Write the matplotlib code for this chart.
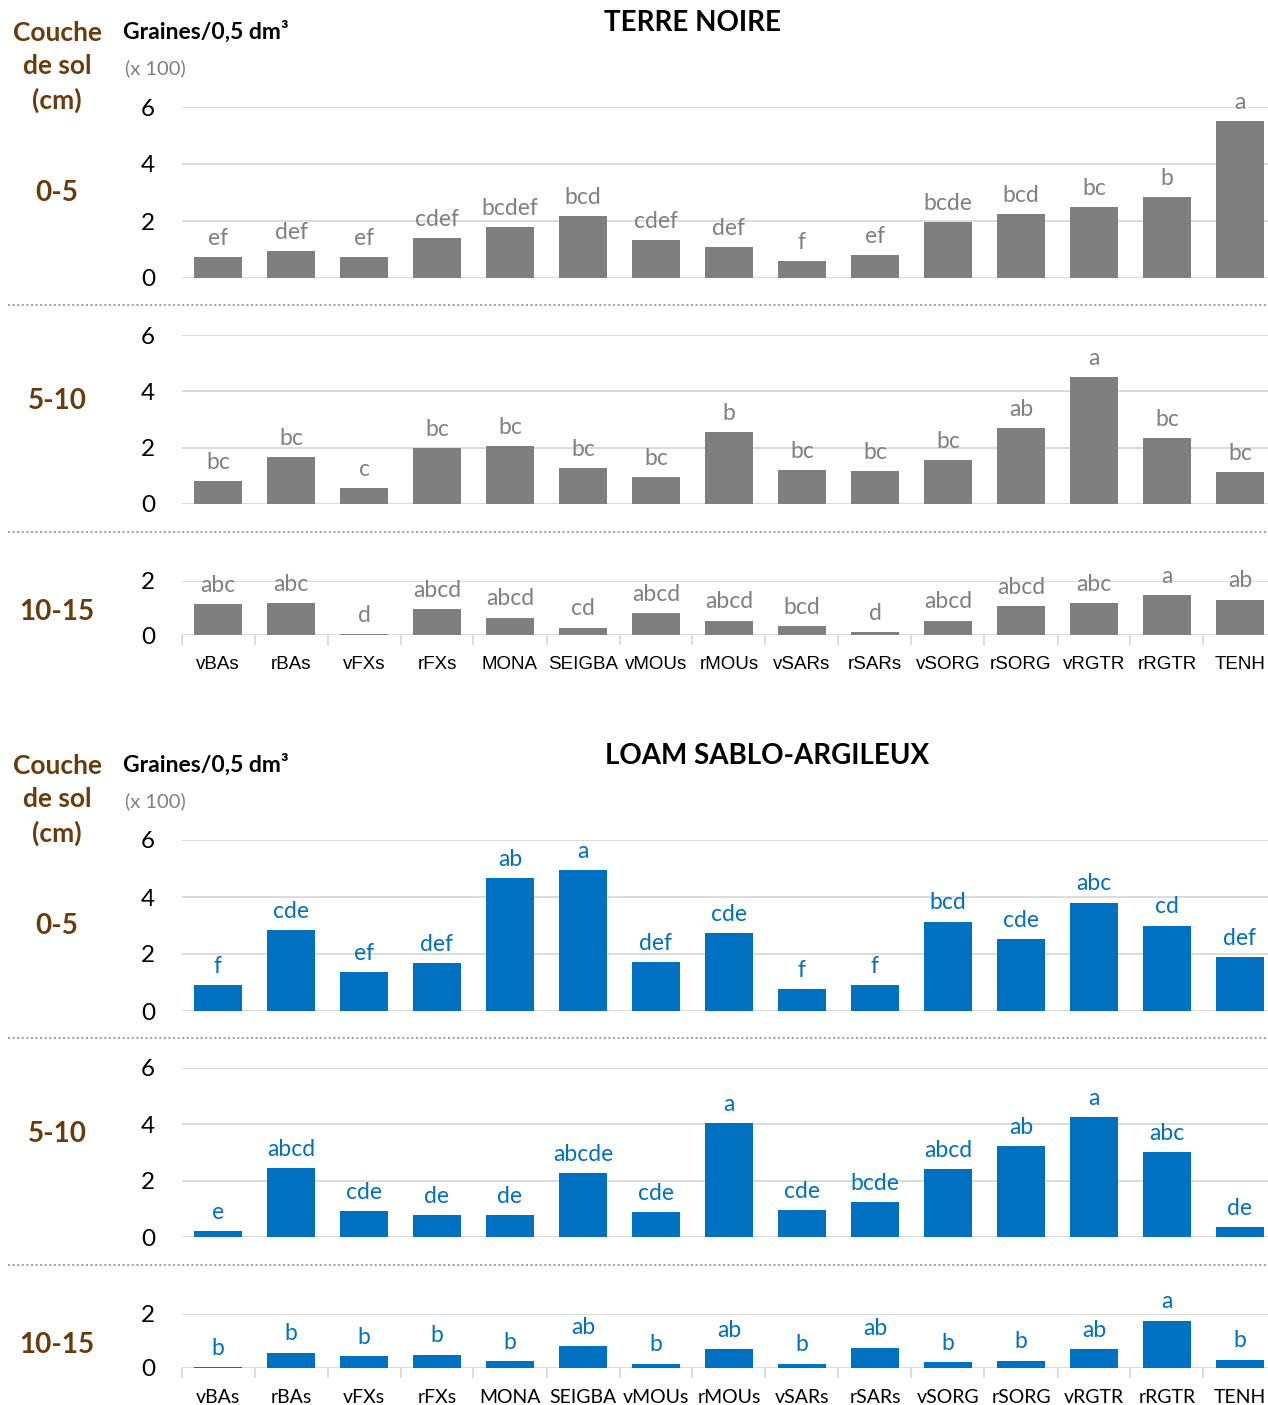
import matplotlib.pyplot as plt
import numpy as np

# sample codes (same order in both soils)
traitements = ['vBAs', 'rBAs', 'vFXs', 'rFXs', 'MONA', 'SEIGBA', 'vMOUs', 'rMOUs',
               'vSARs', 'rSARs', 'vSORG', 'rSORG', 'vRGTR', 'rRGTR', 'TENH']

# seeds per 0.5 dm3 (x 100) - terre noire
tn_0_5 = [0.74, 0.95, 0.74, 1.40, 1.79, 2.18, 1.33, 1.09, 0.60, 0.81, 1.96, 2.25, 2.49, 2.84, 5.51]
tn_5_10 = [0.82, 1.67, 0.57, 1.99, 2.06, 1.28, 0.96, 2.56, 1.21, 1.17, 1.56, 2.70, 4.51, 2.34, 1.14]
tn_10_15 = [1.15, 1.18, 0.04, 0.95, 0.64, 0.27, 0.80, 0.53, 0.32, 0.10, 0.53, 1.06, 1.18, 1.48, 1.31]
tn_let_0_5 = ['ef', 'def', 'ef', 'cdef', 'bcdef', 'bcd', 'cdef', 'def', 'f', 'ef',
              'bcde', 'bcd', 'bc', 'b', 'a']
tn_let_5_10 = ['bc', 'bc', 'c', 'bc', 'bc', 'bc', 'bc', 'b', 'bc', 'bc', 'bc', 'ab', 'a', 'bc', 'bc']
tn_let_10_15 = ['abc', 'abc', 'd', 'abcd', 'abcd', 'cd', 'abcd', 'abcd', 'bcd', 'd',
                'abcd', 'abcd', 'abc', 'a', 'ab']

# loam sablo-argileux
la_0_5 = [0.91, 2.83, 1.36, 1.67, 4.67, 4.95, 1.71, 2.72, 0.77, 0.91, 3.14, 2.51, 3.80, 3.00, 1.88]
la_5_10 = [0.21, 2.45, 0.92, 0.78, 0.78, 2.27, 0.89, 4.05, 0.96, 1.24, 2.41, 3.23, 4.26, 3.02, 0.36]
la_10_15 = [0.04, 0.57, 0.44, 0.49, 0.25, 0.81, 0.16, 0.70, 0.16, 0.75, 0.22, 0.27, 0.70, 1.75, 0.31]
la_let_0_5 = ['f', 'cde', 'ef', 'def', 'ab', 'a', 'def', 'cde', 'f', 'f', 'bcd', 'cde', 'abc', 'cd', 'def']
la_let_5_10 = ['e', 'abcd', 'cde', 'de', 'de', 'abcde', 'cde', 'a', 'cde', 'bcde', 'abcd', 'ab', 'a', 'abc', 'de']
la_let_10_15 = ['b', 'b', 'b', 'b', 'b', 'ab', 'b', 'ab', 'b', 'ab', 'b', 'b', 'ab', 'a', 'b']

couches = ['0-5', '5-10', '10-15']

W, H = 1268, 1405
fig = plt.figure(figsize=(W / 100, H / 100), dpi=100)

BROWN = '#6b3b0b'
GRID = '#d9d9d9'
FONT = ['Lato', 'DejaVu Sans']
NARROW = ['Liberation Sans Narrow', 'Liberation Sans', 'DejaVu Sans']


def px_axes(left, right, top, bottom):
    return fig.add_axes([left / W, 1 - bottom / H, (right - left) / W, (bottom - top) / H])


def draw_layer(ax, vals, letters, ymax, color, lab_color, last, xfont, xsize):
    x = np.arange(len(vals))
    ax.bar(x, vals, width=0.67, color=color, zorder=3)
    ax.set_xlim(-0.5, len(vals) - 0.5)
    ax.set_ylim(0, ymax)
    ax.set_yticks(np.arange(0, ymax + 0.1, 2))
    ax.yaxis.grid(True, color=GRID, lw=1.3, zorder=0)
    for s in ax.spines.values():
        s.set_visible(False)
    ax.tick_params(axis='y', length=0, labelsize=17.5, pad=19)
    for t in ax.get_yticklabels():
        t.set_fontfamily(FONT)
    for xi, v, l in zip(x, vals, letters):
        ax.annotate(l, (xi, v), xytext=(0, 6), textcoords='offset points',
                    ha='center', va='bottom', fontsize=16.5, color=lab_color,
                    family=FONT, annotation_clip=False)
    if last:
        ax.set_xticks(np.arange(-0.5, len(vals), 1))
        ax.set_xticklabels([])
        ax.set_xticks(x, minor=True)
        ax.set_xticklabels(traitements, minor=True, fontsize=xsize, family=xfont)
        ax.tick_params(axis='x', which='major', length=7, color=GRID, width=1.3)
        ax.tick_params(axis='x', which='minor', length=0, pad=15)
    else:
        ax.set_xticks([])


def draw_panel(title, title_x, y0, layers, letters, color, lab_color, xfont, xsize):
    # pixel rows for each layer: (top of scale, baseline, ymax, label row)
    rows = [(y0 + 107, y0 + 278, 6, y0 + 193),
            (y0 + 335, y0 + 504, 6, y0 + 401),
            (y0 + 581, y0 + 635, 2, y0 + 612)]
    for i, ((top, bot, ymax, ly), vals, lets) in enumerate(zip(rows, layers, letters)):
        ax = px_axes(181.5, 1276.5, top, bot)
        draw_layer(ax, vals, lets, ymax, color, lab_color, i == 2, xfont, xsize)
        fig.text(57 / W, 1 - ly / H, couches[i],
                 ha='center', va='center', fontsize=20, fontweight='bold',
                 color=BROWN, family=FONT)
    fig.text(title_x / W, 1 - (y0 + 23) / H, title, ha='center', va='center',
             fontsize=20, fontweight='bold', family=FONT)
    fig.text(57 / W, 1 - (y0 + 67) / H, 'Couche\nde sol\n(cm)', ha='center', va='center',
             fontsize=19, fontweight='bold', color=BROWN, family=FONT, linespacing=1.45)
    fig.text(123 / W, 1 - (y0 + 32) / H, 'Graines/0,5 dm³', ha='left', va='center',
             fontsize=16.5, fontweight='bold', family=FONT)
    fig.text(125 / W, 1 - (y0 + 68) / H, '(x 100)', ha='left', va='center',
             fontsize=14.5, color='#808080', family=FONT)
    for yy in (y0 + 305, y0 + 532):
        fig.add_artist(plt.Line2D([8 / W, 1], [1 - yy / H] * 2, color='#a6a6a6',
                                  lw=1.5, ls=(0, (1, 1.2))))


draw_panel('TERRE NOIRE', 692, 0, [tn_0_5, tn_5_10, tn_10_15],
           [tn_let_0_5, tn_let_5_10, tn_let_10_15], '#7f7f7f', '#808080', NARROW, 13.5)
draw_panel('LOAM SABLO-ARGILEUX', 767, 733, [la_0_5, la_5_10, la_10_15],
           [la_let_0_5, la_let_5_10, la_let_10_15], '#0070c0', '#0070c0', FONT, 14)

fig.savefig('out.png', dpi=100, facecolor='white')
